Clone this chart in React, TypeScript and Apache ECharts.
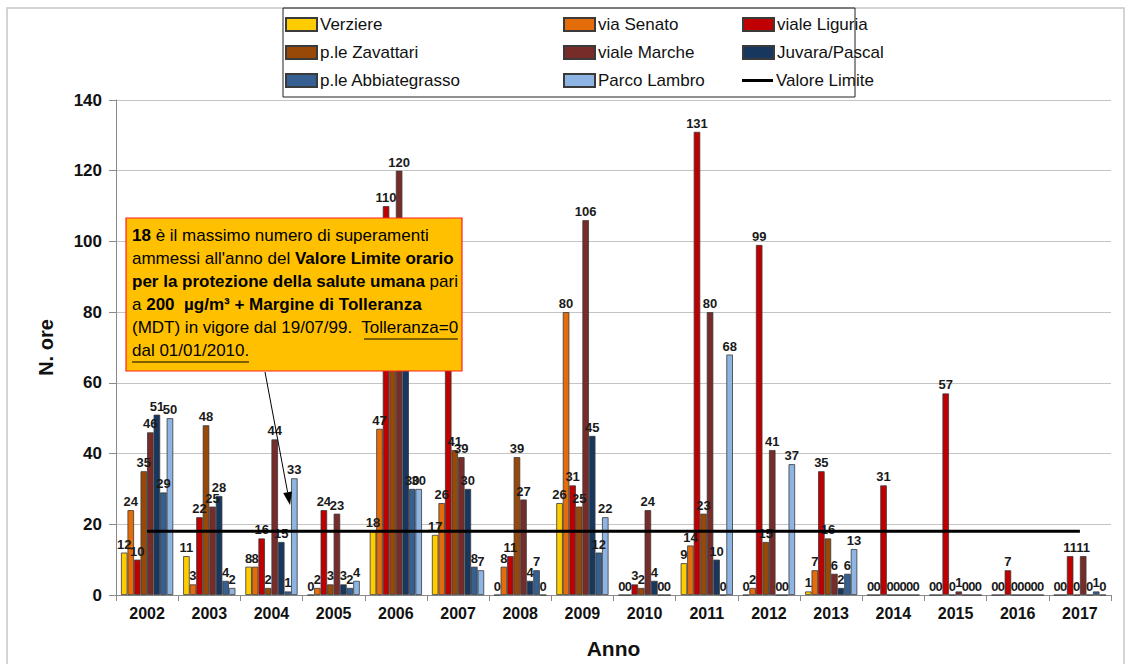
import React, { useEffect, useRef } from "react";
import * as echarts from "echarts";

const years = ["2002", "2003", "2004", "2005", "2006", "2007", "2008", "2009", "2010", "2011", "2012", "2013", "2014", "2015", "2016", "2017"];
const verziere = [12, 11, 8, 0, 18, 17, 0, 26, 0, 9, 0, 1, 0, 0, 0, 0];
const viaSenato = [24, 3, 8, 2, 47, 26, 8, 80, 0, 14, 2, 7, 0, 0, 0, 0];
const vialeLiguria = [10, 22, 16, 24, 110, 74, 11, 31, 3, 131, 99, 35, 31, 57, 7, 11];
const zavattari = [35, 48, 2, 3, 86, 41, 39, 25, 2, 23, 15, 16, 0, 0, 0, 0];
const vialeMarche = [46, 25, 44, 23, 120, 39, 27, 106, 24, 80, 41, 6, 0, 1, 0, 11];
const juvaraPascal = [51, 28, 15, 3, 72, 30, 4, 45, 4, 10, 0, 2, 0, 0, 0, 0];
const abbiategrasso = [29, 4, 1, 2, 30, 8, 7, 12, 0, 0, 0, 6, 0, 0, 0, 1];
const parcoLambro = [50, 2, 33, 4, 30, 7, 0, 22, 0, 68, 37, 13, 0, 0, 0, 0];
const valoreLimite = [18, 18, 18, 18, 18, 18, 18, 18, 18, 18, 18, 18, 18, 18, 18, 18];
const yTicks = { min: 0, max: 140, interval: 20 };

const barSeries = [
  { name: "Verziere", data: verziere, color: "#FFCC00" },
  { name: "via Senato", data: viaSenato, color: "#E46C0A" },
  { name: "viale Liguria", data: vialeLiguria, color: "#C00000" },
  { name: "p.le Zavattari", data: zavattari, color: "#984807" },
  { name: "viale Marche", data: vialeMarche, color: "#772C2A" },
  { name: "Juvara/Pascal", data: juvaraPascal, color: "#17375E" },
  { name: "p.le Abbiategrasso", data: abbiategrasso, color: "#366092" },
  { name: "Parco Lambro", data: parcoLambro, color: "#8DB4E2" },
];

const legendLayout = [
  { name: "Verziere", left: 285, top: 16 },
  { name: "p.le Zavattari", left: 285, top: 44 },
  { name: "p.le Abbiategrasso", left: 285, top: 72 },
  { name: "via Senato", left: 563, top: 16 },
  { name: "viale Marche", left: 563, top: 44 },
  { name: "Parco Lambro", left: 563, top: 72 },
  { name: "viale Liguria", left: 742, top: 16 },
  { name: "Juvara/Pascal", left: 742, top: 44 },
  { name: "Valore Limite", left: 742, top: 72 },
];

const FONT = "Liberation Sans";

export default function App() {
  const ref = useRef<HTMLDivElement>(null);
  useEffect(() => {
    document.body.style.margin = "0";
    const chart = echarts.init(ref.current!, undefined, { renderer: "svg" });

    const ax = 265, ay = 372, bx = 290, by = 505;
    const dx = bx - ax, dy = by - ay;
    const len = Math.sqrt(dx * dx + dy * dy);
    const ux = dx / len, uy = dy / len;
    const hl = 13, hw = 4.5;
    const baseX = bx - ux * hl, baseY = by - uy * hl;

    const option: any = {
      animation: false,
      backgroundColor: "#ffffff",
      grid: { left: 116, right: 18, top: 100, bottom: 69, containLabel: false, outerBoundsMode: "none" },
      legend: legendLayout.map((l) => ({
        left: l.left,
        top: l.top,
        padding: 0,
        data: l.name === "Valore Limite" ? [{ name: l.name, icon: "rect", itemStyle: { color: "#000", borderWidth: 0 } }] : [{ name: l.name, icon: "rect" }],
        itemWidth: 31,
        itemHeight: l.name === "Valore Limite" ? 3 : 13,
        selectedMode: false,
        textStyle: { fontFamily: FONT, fontSize: 17, color: "#111", padding: [0, 0, 0, -2] },
      })),
      xAxis: {
        type: "category",
        data: years,
        name: "Anno",
        nameLocation: "middle",
        nameGap: 43,
        nameTextStyle: { fontFamily: FONT, fontSize: 21, fontWeight: "bold", color: "#111" },
        axisLine: { lineStyle: { color: "#8a8a8a" } },
        axisTick: { show: true, length: 6, lineStyle: { color: "#8a8a8a" } },
        axisLabel: { fontFamily: FONT, fontSize: 16, fontWeight: "bold", color: "#111", margin: 10 },
      },
      yAxis: {
        type: "value",
        min: yTicks.min,
        max: yTicks.max,
        interval: yTicks.interval,
        name: "N. ore",
        nameLocation: "middle",
        nameGap: 60,
        nameTextStyle: { fontFamily: FONT, fontSize: 20, fontWeight: "bold", color: "#111" },
        axisLine: { show: true, lineStyle: { color: "#8a8a8a" } },
        axisTick: { show: true, length: 7, lineStyle: { color: "#8a8a8a" } },
        axisLabel: { fontFamily: FONT, fontSize: 17, fontWeight: "bold", color: "#111", margin: 14 },
        splitLine: { lineStyle: { color: "#c4c4c4" } },
      },
      series: [
        ...barSeries.map((s) => ({
          type: "bar",
          name: s.name,
          data: s.data,
          barGap: "0%",
          barCategoryGap: "16%",
          itemStyle: { color: s.color, borderColor: "#3a3a3a", borderWidth: 0.8 },
          label: {
            show: true,
            position: "top",
            distance: 2,
            fontFamily: FONT,
            fontSize: 13,
            fontWeight: "bold",
            color: "#1a1a1a",
          },
        })),
        {
          type: "line",
          name: "Valore Limite",
          data: valoreLimite,
          symbol: "none",
          lineStyle: { color: "#000", width: 3 },
          itemStyle: { color: "#000" },
          z: 5,
        },
      ],
      graphic: [
        { type: "rect", shape: { x: 7, y: 8, width: 1117, height: 660 }, style: { fill: "none", stroke: "#c8c8c8", lineWidth: 1.5 }, z: -1, silent: true },
        { type: "rect", shape: { x: 283, y: 8, width: 572, height: 89 }, style: { fill: "none", stroke: "#222", lineWidth: 1 }, z: 10, silent: true },
        { type: "rect", shape: { x: 126, y: 218, width: 336, height: 153 }, style: { fill: "#FFC000", stroke: "#FF2020", lineWidth: 1.2 }, z: 100, silent: true },
        {
          type: "text",
          x: 132,
          y: 224,
          z: 101,
          silent: true,
          style: {
            text:
              "{b|18} è il massimo numero di superamenti\n" +
              "ammessi all'anno del {b|Valore Limite orario}\n" +
              "{b|per la protezione della salute umana} pari\n" +
              "a {b|200  µg/m³ + Margine di Tolleranza}\n" +
              "(MDT) in vigore dal 19/07/99.  Tolleranza=0\n" +
              "dal 01/01/2010.",
            fontFamily: FONT,
            fontSize: 17,
            lineHeight: 23,
            fill: "#000",
            rich: {
              b: { fontFamily: FONT, fontSize: 17, fontWeight: "bold", lineHeight: 23, fill: "#000" },
            },
          },
        },
        { type: "line", shape: { x1: 364, y1: 339, x2: 458, y2: 339 }, style: { stroke: "#000", lineWidth: 1 }, z: 101, silent: true },
        { type: "line", shape: { x1: 132, y1: 362, x2: 249, y2: 362 }, style: { stroke: "#000", lineWidth: 1 }, z: 101, silent: true },
        { type: "line", shape: { x1: ax, y1: ay, x2: baseX, y2: baseY }, style: { stroke: "#000", lineWidth: 1 }, z: 101, silent: true },
        {
          type: "polygon",
          shape: { points: [[bx, by], [baseX - uy * hw, baseY + ux * hw], [baseX + uy * hw, baseY - ux * hw]] },
          style: { fill: "#000" },
          z: 101,
          silent: true,
        },
      ],
    };
    chart.setOption(option);
    return () => chart.dispose();
  }, []);
  return <div ref={ref} style={{ width: 1129, height: 664 }} />;
}
